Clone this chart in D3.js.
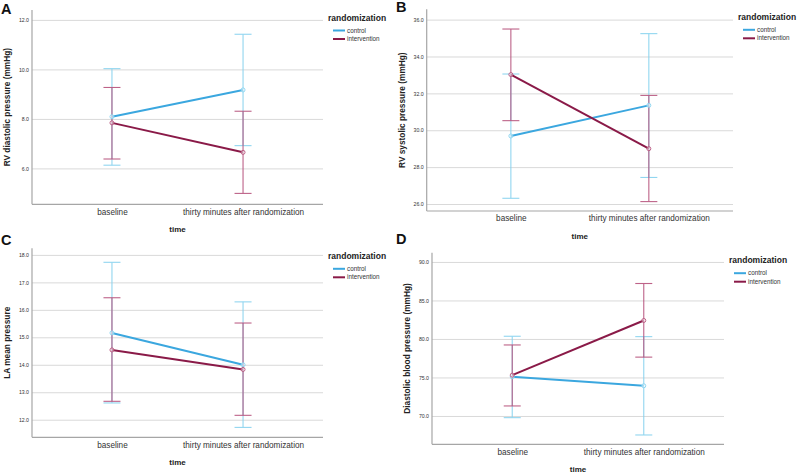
<!DOCTYPE html>
<html>
<head>
<meta charset="utf-8">
<script src="https://cdn.jsdelivr.net/npm/d3@7/dist/d3.min.js"></script>
<style>
  body { margin: 0; background: #fff; }
  svg { display: block; font-family: "Liberation Sans", Arial, sans-serif; }
</style>
</head>
<body>
<svg id="chart" width="799" height="474"></svg>
<script>
// ---------- data ----------
const timepoints = ["baseline", "thirty minutes after randomization"];
const groups = ["control", "intervention"];

// Panel A: RV diastolic pressure (mmHg)
const aControlMean = [8.09, 9.17];
const aControlLow = [6.13, 6.92];
const aControlHigh = [10.03, 11.42];
const aInterventionMean = [7.84, 6.65];
const aInterventionLow = [6.38, 4.99];
const aInterventionHigh = [9.27, 8.31];
const aTicks = [6, 8, 10, 12];

// Panel B: RV systolic pressure (mmHg)
const bControlMean = [29.69, 31.35];
const bControlLow = [26.31, 27.44];
const bControlHigh = [33.05, 35.24];
const bInterventionMean = [33.02, 29.0];
const bInterventionLow = [30.52, 26.13];
const bInterventionHigh = [35.49, 31.89];
const bTicks = [26, 28, 30, 32, 34, 36];

// Panel C: LA mean pressure
const cControlMean = [15.16, 14.0];
const cControlLow = [12.61, 11.72];
const cControlHigh = [17.73, 16.29];
const cInterventionMean = [14.54, 13.83];
const cInterventionLow = [12.67, 12.16];
const cInterventionHigh = [16.44, 15.52];
const cTicks = [12, 13, 14, 15, 16, 17, 18];

// Panel D: Diastolic blood pressure (mmHg)
const dControlMean = [75.09, 73.92];
const dControlLow = [69.78, 67.53];
const dControlHigh = [80.35, 80.3];
const dInterventionMean = [75.3, 82.4];
const dInterventionLow = [71.3, 77.64];
const dInterventionHigh = [79.22, 87.2];
const dTicks = [70, 75, 80, 85, 90];

// ---------- layout ----------
const colors = { control: "#3ba7df", intervention: "#8a1a48" };
const barColors = { control: "#86d2ef", intervention: "#b7527c" };

const panels = [
  { label: "A", lx: 1, ly: 13.5, x0: 32, x1: 323, y0: 10, y1: 204.3, domain: [4.55, 12.40], ticks: aTicks,
    title: "RV diastolic pressure (mmHg)",
    series: { control: [aControlMean, aControlLow, aControlHigh], intervention: [aInterventionMean, aInterventionLow, aInterventionHigh] } },
  { label: "B", lx: 396, ly: 12, x0: 426.7, x1: 733, y0: 9.3, y1: 211, domain: [25.62, 36.56], ticks: bTicks,
    title: "RV systolic pressure (mmHg)",
    series: { control: [bControlMean, bControlLow, bControlHigh], intervention: [bInterventionMean, bInterventionLow, bInterventionHigh] } },
  { label: "C", lx: 1, ly: 245, x0: 32, x1: 323, y0: 248.3, y1: 437.3, domain: [11.36, 18.24], ticks: cTicks,
    title: "LA mean pressure",
    series: { control: [cControlMean, cControlLow, cControlHigh], intervention: [cInterventionMean, cInterventionLow, cInterventionHigh] } },
  { label: "D", lx: 396, ly: 243.5, x0: 432, x1: 724, y0: 252.7, y1: 444.3, domain: [66.32, 91.2], ticks: dTicks,
    title: "Diastolic blood pressure (mmHg)",
    series: { control: [dControlMean, dControlLow, dControlHigh], intervention: [dInterventionMean, dInterventionLow, dInterventionHigh] } }
];

const svg = d3.select("#chart");

panels.forEach(p => {
  const g = svg.append("g");
  const x = d3.scalePoint().domain(timepoints).range([p.x0, p.x1]).padding(0.61);
  const y = d3.scaleLinear().domain(p.domain).range([p.y1, p.y0]);

  // panel letter
  g.append("text").attr("x", p.lx).attr("y", p.ly)
    .attr("font-size", 14.5).attr("font-weight", "bold").attr("fill", "#111").text(p.label);

  // gridlines + y tick labels
  const ya = g.append("g").attr("transform", `translate(${p.x0},0)`)
    .call(d3.axisLeft(y).tickValues(p.ticks).tickFormat(d3.format(".1f"))
      .tickSize(-(p.x1 - p.x0)).tickPadding(3));
  ya.select(".domain").remove();
  ya.selectAll(".tick line").attr("stroke", "#d9d9d9").attr("stroke-width", 1);
  ya.selectAll(".tick text").attr("font-size", 5.2).attr("fill", "#333").attr("font-family", "Liberation Sans, Arial, sans-serif");

  // x axis labels
  const xa = g.append("g").attr("transform", `translate(0,${p.y1})`)
    .call(d3.axisBottom(x).tickSize(0).tickPadding(4.5));
  xa.select(".domain").remove();
  xa.selectAll(".tick text").attr("font-size", 8.2).attr("fill", "#333").attr("font-family", "Liberation Sans, Arial, sans-serif");

  // frame lines (left + bottom)
  g.append("line").attr("x1", p.x0).attr("x2", p.x0).attr("y1", p.y0).attr("y2", p.y1)
    .attr("stroke", "#a6a6a6").attr("stroke-width", 1.2);
  g.append("line").attr("x1", p.x0).attr("x2", p.x1).attr("y1", p.y1).attr("y2", p.y1)
    .attr("stroke", "#a6a6a6").attr("stroke-width", 1.2);

  // axis titles
  g.append("text").attr("x", (p.x0 + p.x1) / 2).attr("y", p.y1 + 28)
    .attr("text-anchor", "middle").attr("font-size", 8).attr("font-weight", "bold").attr("fill", "#222").text("time");
  const cy = (p.y0 + p.y1) / 2;
  g.append("text").attr("transform", `translate(${p.x0 - 22},${cy}) rotate(-90)`)
    .attr("text-anchor", "middle").attr("font-size", 8.3).attr("font-weight", "bold").attr("fill", "#222").text(p.title);

  // series
  groups.forEach(grp => {
    const [mean, lo, hi] = p.series[grp];
    // error bars
    timepoints.forEach((t, i) => {
      const cx = x(t);
      const eb = g.append("g").attr("stroke", barColors[grp]).attr("stroke-width", 1.1).attr("opacity", 0.9);
      eb.append("line").attr("x1", cx).attr("x2", cx).attr("y1", y(lo[i])).attr("y2", y(hi[i]));
      eb.append("line").attr("x1", cx - 8.5).attr("x2", cx + 8.5).attr("y1", y(lo[i])).attr("y2", y(lo[i]));
      eb.append("line").attr("x1", cx - 8.5).attr("x2", cx + 8.5).attr("y1", y(hi[i])).attr("y2", y(hi[i]));
    });
  });
  groups.forEach(grp => {
    const [mean] = p.series[grp];
    const pts = timepoints.map((t, i) => [x(t), y(mean[i])]);
    g.append("path").attr("d", d3.line()(pts)).attr("fill", "none")
      .attr("stroke", colors[grp]).attr("stroke-width", 2);
    pts.forEach(pt => {
      g.append("circle").attr("cx", pt[0]).attr("cy", pt[1]).attr("r", 2)
        .attr("fill", "#fff").attr("fill-opacity", 0.5).attr("stroke", barColors[grp]).attr("stroke-width", 0.9);
    });
  });

  // legend
  const lg = g.append("g").attr("transform", `translate(${p.x1 + 5},${p.y0})`);
  lg.append("text").attr("x", 0).attr("y", 10.5).attr("font-size", 8.5).attr("font-weight", "bold")
    .attr("fill", "#222").text("randomization");
  groups.forEach((grp, i) => {
    const ly = 20.5 + i * 8.5;
    lg.append("line").attr("x1", 5).attr("x2", 17).attr("y1", ly).attr("y2", ly)
      .attr("stroke", colors[grp]).attr("stroke-width", 2);
    lg.append("text").attr("x", 19).attr("y", ly + 2.2).attr("font-size", 6.3).attr("fill", "#333").text(grp);
  });
});
</script>
</body>
</html>
